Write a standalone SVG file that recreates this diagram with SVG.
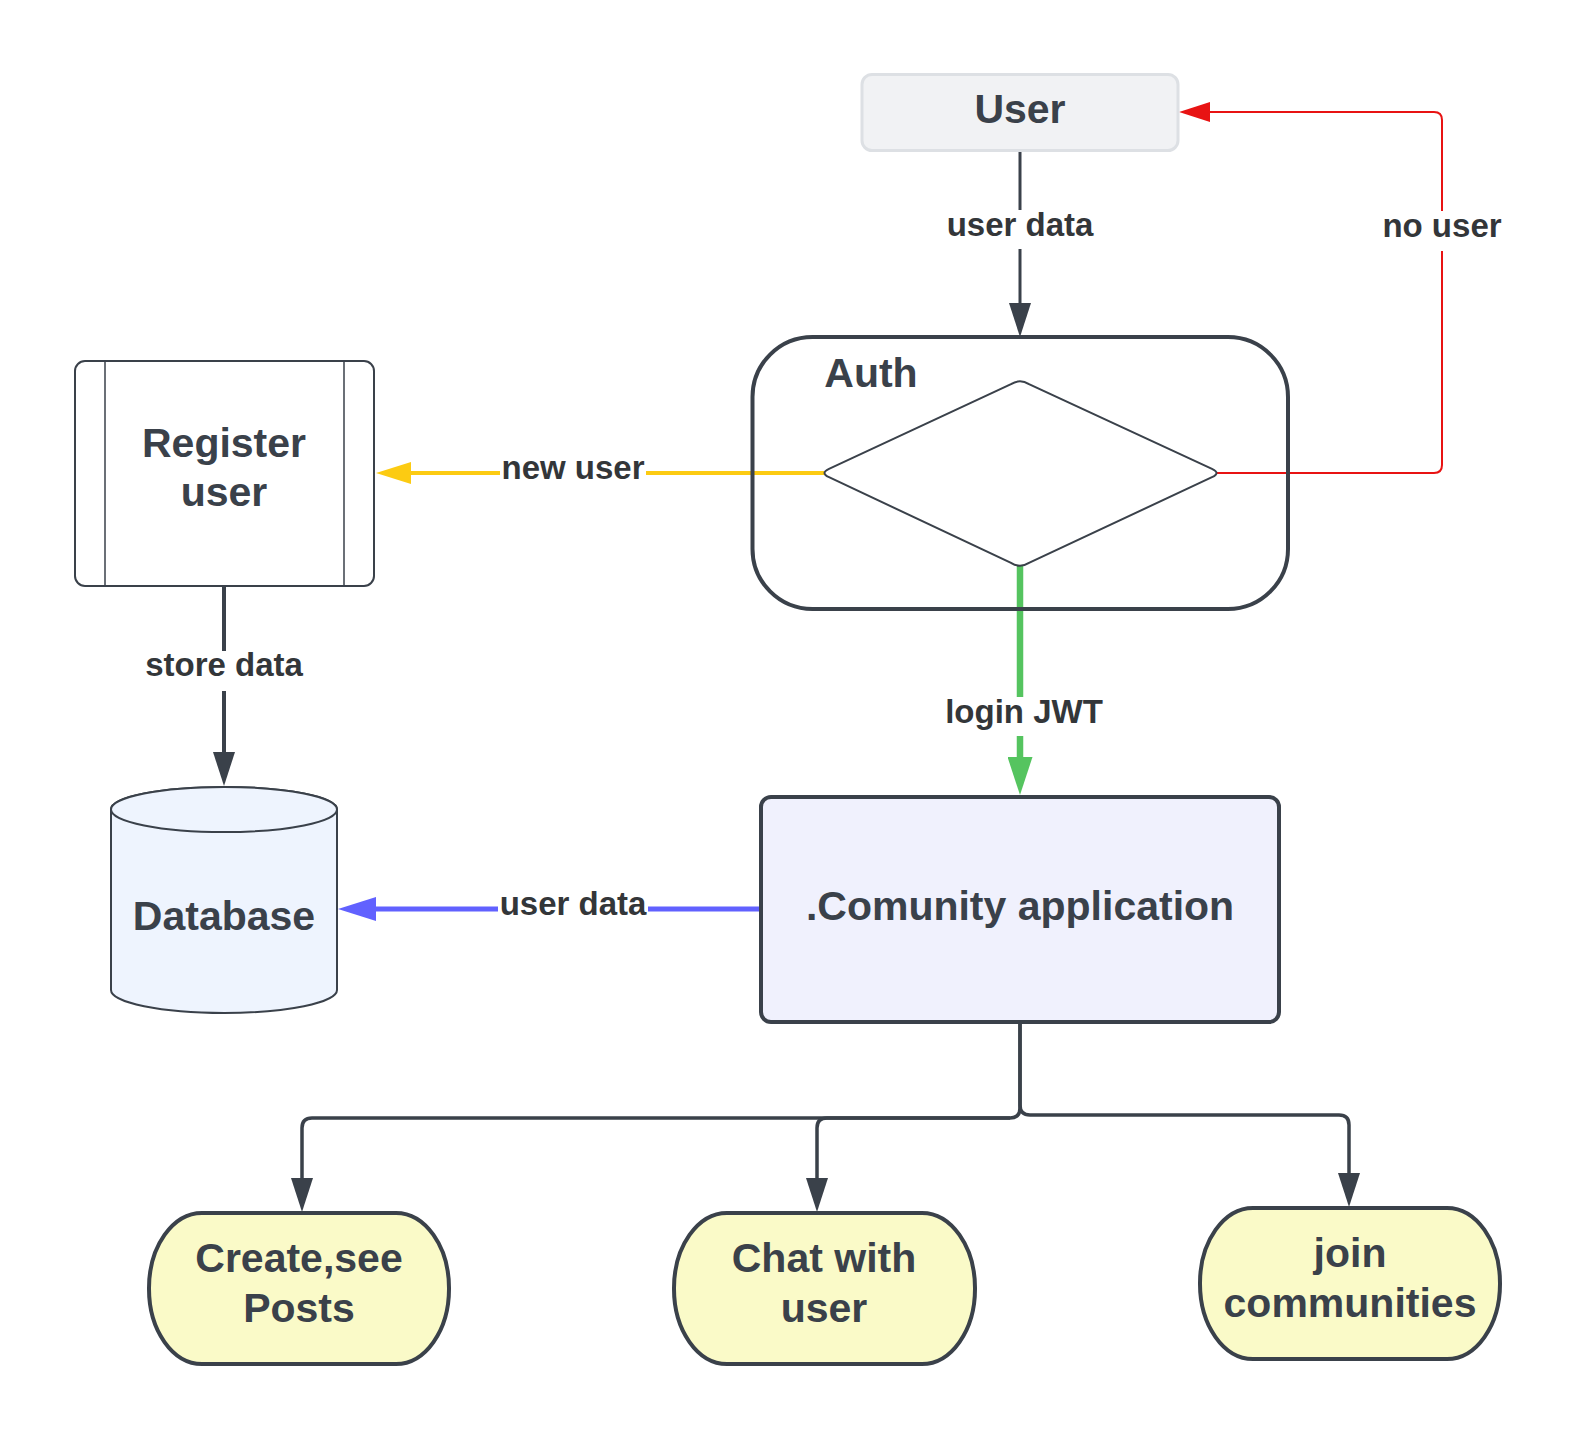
<svg xmlns="http://www.w3.org/2000/svg" width="1579" height="1440" viewBox="0 0 1579 1440">
<style>
.node-text{font-family:"Liberation Sans",Arial,sans-serif;font-weight:bold;font-size:41px;fill:#3a414a;text-anchor:middle}
.label{font-family:"Liberation Sans",Arial,sans-serif;font-weight:bold;font-size:33px;fill:#333639;text-anchor:middle}
.lbg{fill:#ffffff}
.dark{fill:none;stroke:#3a414a;stroke-width:3.5}
.term{fill:#fafac8;stroke:#3a414a;stroke-width:4}
</style>
<defs>
<marker id="arrDark" markerUnits="userSpaceOnUse" viewBox="0 0 34 22" refX="0" refY="11" markerWidth="34" markerHeight="22" orient="auto"><path d="M0,0 L34,11 L0,22 Z" fill="#3a414a"/></marker>
<marker id="arrRed" markerUnits="userSpaceOnUse" viewBox="0 0 31 20" refX="0" refY="10" markerWidth="31" markerHeight="20" orient="auto"><path d="M0,0 L31,10 L0,20 Z" fill="#e81313"/></marker>
<marker id="arrYellow" markerUnits="userSpaceOnUse" viewBox="0 0 35 22" refX="0" refY="11" markerWidth="35" markerHeight="22" orient="auto"><path d="M0,0 L35,11 L0,22 Z" fill="#fccb12"/></marker>
<marker id="arrBlue" markerUnits="userSpaceOnUse" viewBox="0 0 38 24" refX="0" refY="12" markerWidth="38" markerHeight="24" orient="auto"><path d="M0,0 L38,12 L0,24 Z" fill="#6161ff"/></marker>
<marker id="arrGreen" markerUnits="userSpaceOnUse" viewBox="0 0 38 25" refX="0" refY="12.5" markerWidth="38" markerHeight="25" orient="auto"><path d="M0,0 L38,12.5 L0,25 Z" fill="#55c45f"/></marker>
</defs>
<rect width="1579" height="1440" fill="#ffffff"/>

<g id="connectors">
  <path d="M1020,151 V303" fill="none" stroke="#3a414a" stroke-width="3" marker-end="url(#arrDark)"/>
  <path d="M1217,473 H1434 Q1442,473 1442,465 V120 Q1442,112 1434,112 H1210" fill="none" stroke="#e81313" stroke-width="2" marker-end="url(#arrRed)"/>
  <path d="M824,473 H411" fill="none" stroke="#fccb12" stroke-width="4" marker-end="url(#arrYellow)"/>
  <path d="M224,586 V752" fill="none" stroke="#3a414a" stroke-width="4" marker-end="url(#arrDark)"/>
  <path d="M1020,565 V757" fill="none" stroke="#55c45f" stroke-width="6.5" marker-end="url(#arrGreen)"/>
  <path d="M761,909 H376" fill="none" stroke="#6161ff" stroke-width="5" marker-end="url(#arrBlue)"/>
  <path class="dark" d="M1020,1022 V1108 Q1020,1118 1010,1118 H312 Q302,1118 302,1128 V1178" marker-end="url(#arrDark)"/>
  <path class="dark" d="M1010,1118 H827 Q817,1118 817,1128 V1178" marker-end="url(#arrDark)"/>
  <path class="dark" d="M1020,1022 V1105 Q1020,1115 1030,1115 H1339 Q1349,1115 1349,1125 V1173" marker-end="url(#arrDark)"/>

  <rect class="lbg" x="945" y="210" width="150" height="39"/>
  <text class="label" x="1020" y="236">user data</text>
  <rect class="lbg" x="1380" y="211" width="124" height="40"/>
  <text class="label" x="1442" y="237">no user</text>
  <rect class="lbg" x="500" y="455" width="146" height="36"/>
  <text class="label" x="573" y="479">new user</text>
  <rect class="lbg" x="144" y="651" width="161" height="40"/>
  <text class="label" x="224" y="676">store data</text>
  <rect class="lbg" x="944" y="697" width="162" height="39"/>
  <text class="label" x="1024" y="723">login JWT</text>
  <rect class="lbg" x="498" y="890" width="150" height="36"/>
  <text class="label" x="573" y="915">user data</text>
</g>

<g id="node-user">
  <rect x="862" y="74.5" width="316" height="76" rx="10" fill="#f1f2f4" stroke="#dde0e4" stroke-width="3"/>
  <text class="node-text" x="1020" y="123">User</text>
</g>

<g id="node-auth">
  <rect x="752.5" y="337" width="535.5" height="272" rx="60" fill="none" stroke="#3a414a" stroke-width="4"/>
  <text class="node-text" x="871" y="387" font-size="40">Auth</text>
</g>

<g id="node-decision">
  <path d="M829,468.8 L1011,384.2 Q1020,378.5 1029,384.2 L1212,468.8 Q1221,473 1212,477.2 L1029,562.8 Q1020,568.5 1011,562.8 L829,477.2 Q820,473 829,468.8 Z" fill="#ffffff" stroke="#3a414a" stroke-width="2"/>
</g>

<g id="node-register">
  <rect x="75" y="361" width="299" height="225" rx="10" fill="#ffffff" stroke="#3a414a" stroke-width="2"/>
  <line x1="105" y1="361" x2="105" y2="586" stroke="#3a414a" stroke-width="1.5"/>
  <line x1="344" y1="361" x2="344" y2="586" stroke="#3a414a" stroke-width="1.5"/>
  <text class="node-text" x="224" y="457">Register</text>
  <text class="node-text" x="224" y="506">user</text>
</g>

<g id="node-database">
  <path d="M111,809.5 V990 A113,23 0 0 0 337,990 V809.5 A113,22.5 0 0 0 111,809.5 Z" fill="#eef4fe" stroke="#3a414a" stroke-width="2"/>
  <ellipse cx="224" cy="809.5" rx="113" ry="22.5" fill="#eef4fe" stroke="#3a414a" stroke-width="2"/>
  <text class="node-text" x="224" y="930">Database</text>
</g>

<g id="node-app">
  <rect x="761" y="797" width="518" height="225" rx="10" fill="#f0f1fd" stroke="#3a414a" stroke-width="4"/>
  <text class="node-text" x="1020" y="920">.Comunity application</text>
</g>

<g id="node-posts">
  <rect class="term" x="149" y="1213" width="300" height="151" rx="53" ry="75"/>
  <text class="node-text" x="299" y="1272">Create,see</text>
  <text class="node-text" x="299" y="1322">Posts</text>
</g>

<g id="node-chat">
  <rect class="term" x="674" y="1213" width="301" height="151" rx="53" ry="75"/>
  <text class="node-text" x="824" y="1272">Chat with</text>
  <text class="node-text" x="824" y="1322">user</text>
</g>

<g id="node-join">
  <rect class="term" x="1200" y="1208" width="300" height="151" rx="53" ry="75"/>
  <text class="node-text" x="1350" y="1267">join</text>
  <text class="node-text" x="1350" y="1317">communities</text>
</g>
</svg>
